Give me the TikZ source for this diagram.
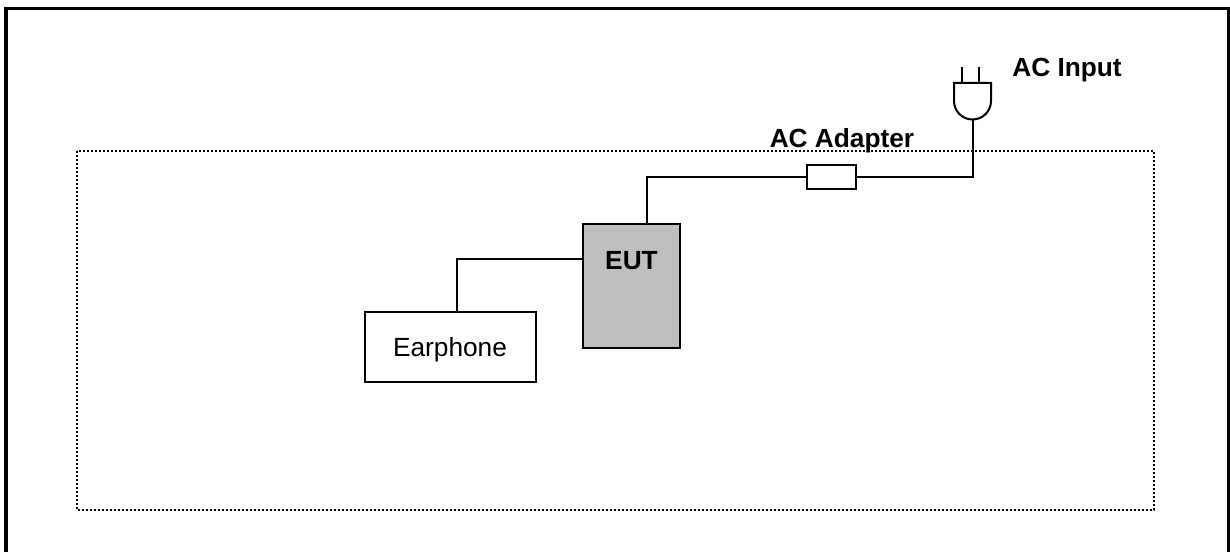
\documentclass[tikz,border=0pt]{standalone}
\usepackage{fontspec}
\setmainfont{Liberation Sans}
\usepackage{xcolor}
\usetikzlibrary{math}
\definecolor{eutgray}{RGB}{191,191,191}
\tikzset{
  wire/.style={line width=1.5pt,color=black},
  boxnode/.style={draw,line width=1.5pt,inner sep=0pt},
  labelnode/.style={font=\fontsize{19.7}{24}\selectfont\bfseries,inner sep=0pt,anchor=base},
  textnode/.style={font=\fontsize{19.7}{24}\selectfont,inner sep=0pt,anchor=base}
}

\begin{document}
\begin{tikzpicture}[x=0.75pt,y=-0.75pt]
\tikzmath{
\W=1230;
\H=552;
\u=0.75;
}
\useasboundingbox (0,0) rectangle (\W,\H);

%frame
\draw[line width=2.6pt] (6,\H) -- (6,8.5) -- (1228.5,8.5) -- (1228.5,\H);
\draw[line width=1.1pt,dash pattern=on 1.2pt off 1.8pt] (77,151) rectangle (1154,510);

%boxes
\node[boxnode,fill=eutgray,minimum width=97*\u pt,minimum height=124*\u pt] (eut) at (631.5,286) {};
\node[labelnode] (eutlabel) at (631.5,269.5) {EUT};
\node[boxnode,fill=white,minimum width=171*\u pt,minimum height=70*\u pt] (earphone) at (450.5,347) {};
\node[textnode] (earlabel) at (450,356.5) {Earphone};
\node[boxnode,fill=white,minimum width=49*\u pt,minimum height=24*\u pt] (adapter) at (831.5,177) {};

%plug
\draw[wire] (954,83) -- (991,83) -- (991,101) arc(0:180:18.5) -- cycle;
\draw[wire] (962,67) -- (962,83);
\draw[wire] (979,67) -- (979,83);

\coordinate (plugout) at (973,120);
\coordinate (eutout) at (647,224);
\coordinate (eutin) at (583,258.5);
\coordinate (earin) at (457,312);

%cables
\draw[wire] (plugout) |- (adapter.east);
\draw[wire] (adapter.west) -| (eutout);
\draw[wire] (eutin) -| (earin);

%labels
\node[labelnode] (acinput) at (1067,76.5) {AC Input};
\node[labelnode] (aclabel) at (842,148) {AC Adapter};
\end{tikzpicture}
\end{document}
